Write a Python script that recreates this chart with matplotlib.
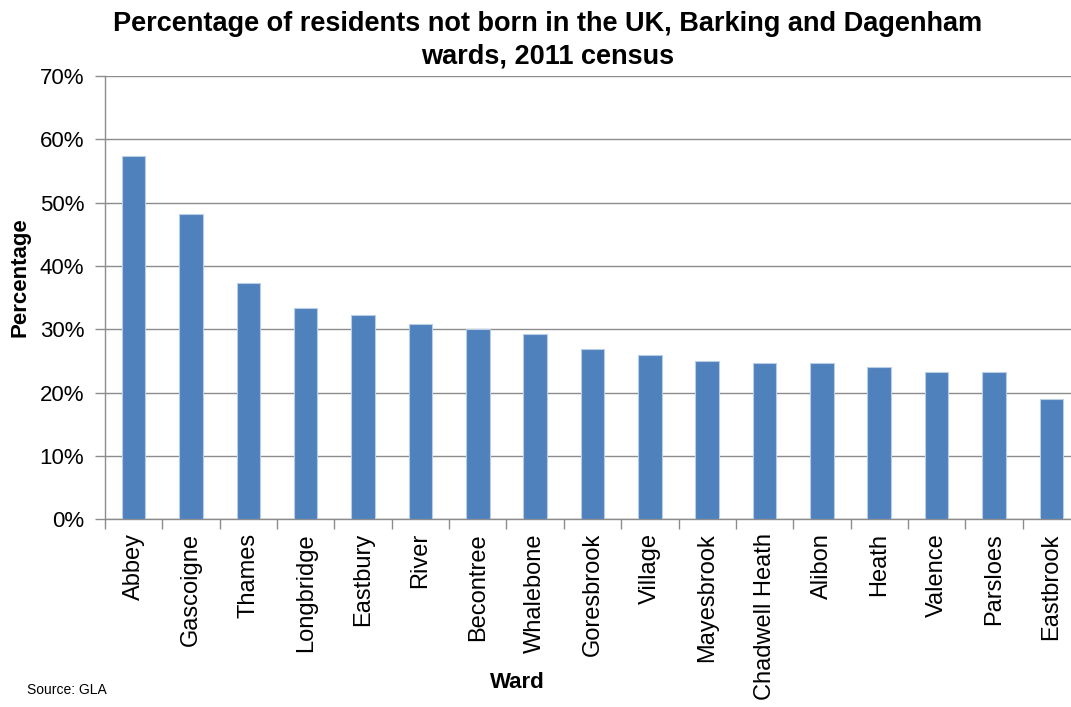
"""Bar chart: share of residents born outside the UK, Barking and Dagenham wards (2011 census)."""

import numpy as np
import matplotlib.pyplot as plt
from matplotlib.ticker import FixedLocator, PercentFormatter

plt.rcParams["font.family"] = ["Liberation Sans", "DejaVu Sans"]

wards = [
    "Abbey", "Gascoigne", "Thames", "Longbridge", "Eastbury", "River",
    "Becontree", "Whalebone", "Goresbrook", "Village", "Mayesbrook",
    "Chadwell Heath", "Alibon", "Heath", "Valence", "Parsloes", "Eastbrook",
]
pct_not_uk_born = [
    57.3, 48.2, 37.3, 33.3, 32.3, 30.8, 30.1, 29.2, 26.9, 26.0, 25.0,
    24.7, 24.7, 24.0, 23.3, 23.3, 19.0,
]

BAR = "#4F81BD"
GRID = "#8C8C8C"

fig = plt.figure(figsize=(10.71, 7.07), dpi=100)
ax = fig.add_axes([0.098, 0.2655, 0.9104, 0.627])

x = np.arange(len(wards))
ax.bar(x, pct_not_uk_born, width=0.41, color=BAR, edgecolor="#B9CDE5",
       linewidth=0.8, zorder=3)

ax.set_xlim(-0.5, len(wards) - 0.5)
ax.set_ylim(0, 70)
ax.set_yticks(range(0, 71, 10))
ax.yaxis.set_major_formatter(PercentFormatter(decimals=0))
ax.grid(axis="y", color=GRID, linewidth=1.0, zorder=0)

# labels centred on bars, tick marks between categories
ax.set_xticks(x)
ax.set_xticklabels(wards, rotation=90, fontsize=17)
ax.tick_params(axis="x", which="major", length=0, pad=10)
ax.xaxis.set_minor_locator(FixedLocator(np.arange(-0.5, len(wards), 1.0)))
ax.tick_params(axis="x", which="minor", length=7, color=GRID, width=1)
ax.tick_params(axis="y", length=7, color=GRID, width=1, labelsize=16, pad=8)

for side in ("top", "right"):
    ax.spines[side].set_visible(False)
for side in ("left", "bottom"):
    ax.spines[side].set_color(GRID)
    ax.spines[side].set_linewidth(1.0)

fig.text(0.019, 0.608, "Percentage", fontsize=16, fontweight="bold",
         rotation=90, ha="center", va="center")
fig.text(0.483, 0.034, "Ward", fontsize=16, fontweight="bold", ha="center", va="center")
fig.text(0.025, 0.024, "Source: GLA", fontsize=10, ha="left", va="center")

fig.suptitle("Percentage of residents not born in the UK, Barking and Dagenham\nwards, 2011 census",
             x=0.511, y=0.984, fontsize=19.5, fontweight="bold", linespacing=1.3)

fig.savefig("out.png", dpi=100)
